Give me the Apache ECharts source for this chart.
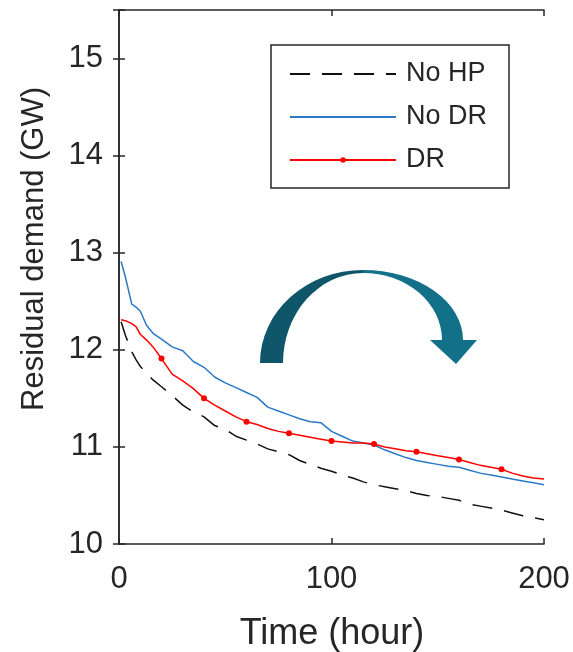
<!DOCTYPE html>
<html>
<head>
<meta charset="utf-8">
<script src="https://cdn.jsdelivr.net/npm/echarts@6/dist/echarts.min.js"></script>
<style>
  html, body { margin: 0; padding: 0; background: #fff; }
  #chart { width: 573px; height: 652px; }
</style>
</head>
<body>
<div id="chart"></div>
<script>
// hours
const hours = [1, 3, 6, 8, 10, 13, 16, 20, 25, 30, 35, 40, 45, 50, 55, 60, 65, 70, 75, 80,
  85, 90, 95, 100, 105, 110, 115, 120, 125, 130, 135, 140, 145, 150, 155, 160, 165, 170,
  175, 180, 185, 190, 195, 200]
// residual demand, GW
const noHP = [12.29, 12.15, 11.98, 11.90, 11.83, 11.76, 11.69, 11.62, 11.53, 11.43, 11.36, 11.31,
  11.22, 11.18, 11.11, 11.07, 11.03, 10.98, 10.95, 10.92, 10.86, 10.82, 10.78, 10.75, 10.71,
  10.68, 10.64, 10.61, 10.59, 10.57, 10.55, 10.52, 10.50, 10.49, 10.47, 10.45, 10.41, 10.39,
  10.37, 10.35, 10.32, 10.29, 10.27, 10.25]
const noDR = [12.91, 12.75, 12.47, 12.44, 12.40, 12.25, 12.17, 12.11, 12.03, 11.99, 11.88, 11.82,
  11.72, 11.66, 11.61, 11.56, 11.51, 11.41, 11.37, 11.33, 11.29, 11.26, 11.25, 11.16, 11.11,
  11.06, 11.04, 11.02, 10.97, 10.93, 10.89, 10.86, 10.84, 10.82, 10.80, 10.79, 10.76, 10.73,
  10.71, 10.69, 10.67, 10.65, 10.63, 10.61]
const dr = [12.31, 12.30, 12.27, 12.24, 12.16, 12.10, 12.03, 11.91, 11.75, 11.68, 11.60, 11.50,
  11.43, 11.37, 11.31, 11.26, 11.23, 11.19, 11.16, 11.14, 11.12, 11.10, 11.08, 11.06, 11.05,
  11.04, 11.04, 11.03, 11.00, 10.98, 10.96, 10.95, 10.93, 10.91, 10.89, 10.87, 10.84, 10.81,
  10.79, 10.77, 10.73, 10.70, 10.68, 10.67]
const markerHours = [20, 40, 60, 80, 100, 120, 140, 160, 180]

const axisColor = '#262626'
const font = 'Liberation Sans, Arial, sans-serif'

function pairs(values) {
  return hours.map((h, i) => [h, values[i]])
}

const chart = echarts.init(document.getElementById('chart'))

const option = {
  animation: false,
  backgroundColor: '#fff',
  textStyle: { fontFamily: font },
  grid: { left: 119, top: 10, right: 29, bottom: 108 },
  legend: {
    orient: 'vertical',
    left: 271,
    top: 45,
    padding: [15, 22, 14, 18],
    itemWidth: 106,
    itemHeight: 7,
    itemGap: 15,
    borderColor: axisColor,
    borderWidth: 1.5,
    backgroundColor: '#fff',
    textStyle: { fontSize: 27, color: axisColor, lineHeight: 28, padding: [0, 0, 0, 5] },
    // no marker on the two plain lines
    data: [
      { name: 'No HP', itemStyle: { opacity: 0 } },
      { name: 'No DR', itemStyle: { opacity: 0 } },
      'DR'
    ]
  },
  xAxis: [
    {
      type: 'value',
      min: 0,
      max: 200,
      interval: 100,
      axisLine: { lineStyle: { color: axisColor, width: 1.5 } },
      axisTick: { inside: true, length: 6, lineStyle: { color: axisColor, width: 1.5 } },
      axisLabel: { fontSize: 31, color: axisColor, margin: 20 },
      splitLine: { show: false }
    },
    {
      type: 'value',
      position: 'top',
      min: 0,
      max: 200,
      interval: 100,
      axisLine: { lineStyle: { color: axisColor, width: 1.5 } },
      axisTick: { inside: true, length: 6, lineStyle: { color: axisColor, width: 1.5 } },
      axisLabel: { show: false },
      splitLine: { show: false }
    }
  ],
  yAxis: [
    {
      type: 'value',
      min: 10,
      max: 15.5,
      interval: 1,
      axisLine: { show: true, lineStyle: { color: axisColor, width: 1.5 } },
      axisTick: { show: true, inside: true, length: 6, lineStyle: { color: axisColor, width: 1.5 } },
      axisLabel: {
        fontSize: 31,
        color: axisColor,
        margin: 16,
        formatter: v => (Number.isInteger(v) ? String(v) : '')
      },
      splitLine: { show: false }
    },
    {
      type: 'value',
      position: 'right',
      min: 10,
      max: 15.5,
      interval: 1,
      axisLine: { show: true, lineStyle: { color: axisColor, width: 1.5 } },
      axisTick: { show: true, inside: true, length: 6, lineStyle: { color: axisColor, width: 1.5 } },
      axisLabel: { show: false },
      splitLine: { show: false }
    }
  ],
  series: [
    {
      name: 'No HP',
      type: 'line',
      symbol: 'none',
      lineStyle: { color: '#111', width: 1.5, type: [20, 12] },
      itemStyle: { color: '#111' },
      data: pairs(noHP)
    },
    {
      name: 'No DR',
      type: 'line',
      symbol: 'none',
      lineStyle: { color: '#2a78c8', width: 1.5 },
      itemStyle: { color: '#2a78c8' },
      data: pairs(noDR)
    },
    {
      name: 'DR',
      type: 'line',
      symbol: 'circle',
      symbolSize: v => (markerHours.includes(v[0]) ? 6 : 0),
      lineStyle: { color: '#ff0000', width: 1.5 },
      itemStyle: { color: '#ff0000' },
      data: pairs(dr)
    }
  ],
  graphic: [
    {
      type: 'text',
      left: 19,
      top: 87,
      style: {
        text: 'Residual demand (GW)',
        font: '31px ' + font,
        fill: axisColor
      },
      rotation: Math.PI / 2,
      originX: 0,
      originY: 0
    },
    {
      type: 'text',
      x: 332,
      y: 634,
      style: {
        text: 'Time (hour)',
        font: '36px ' + font,
        fill: axisColor,
        align: 'center',
        verticalAlign: 'middle'
      }
    }
  ]
}

chart.setOption(option)

// curved arrow annotation: left half darker, right half with the head
const zr = chart.getZr()
zr.add(echarts.graphic.makePath(
  'M260,363 A103,93 0 0 1 363,270 L363,273 A80,90 0 0 0 283,363 Z',
  { style: { fill: '#0f566b' } }
))
zr.add(echarts.graphic.makePath(
  'M363,270 A100,70 0 0 1 463,340 L477,340 L456,364 L430,340 L442,340 A79,67 0 0 0 363,273 Z',
  { style: { fill: '#137089' } }
))
</script>
</body>
</html>
